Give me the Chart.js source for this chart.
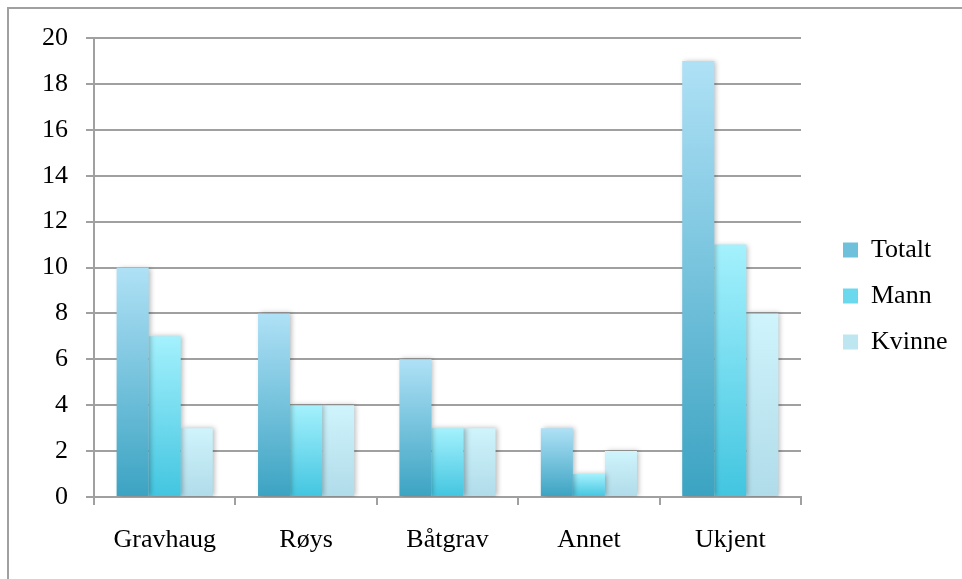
<!DOCTYPE html>
<html>
<head>
<meta charset="utf-8">
<script src="https://cdn.jsdelivr.net/npm/chart.js@4.4.1/dist/chart.umd.min.js"></script>
<style>
  html, body { margin: 0; padding: 0; background: #fff; }
  #wrap { position: relative; width: 962px; height: 579px; }
  #frame { position: absolute; left: 7px; top: 7px; right: 0; bottom: 0;
           border-left: 2px solid #a0a0a0; border-top: 2px solid #a0a0a0; }
  canvas { position: absolute; left: 0; top: 0; }
</style>
</head>
<body>
<div id="wrap">
  <div id="frame"></div>
  <canvas id="grafico" width="962" height="579"></canvas>
</div>
<script>
// data
const kategorier = ['Gravhaug', 'Røys', 'Båtgrav', 'Annet', 'Ukjent'];
const totalt = [10, 8, 6, 3, 19];
const mann = [7, 4, 3, 1, 11];
const kvinne = [3, 4, 3, 2, 8];
const yTicks = [0, 2, 4, 6, 8, 10, 12, 14, 16, 18, 20];

// [bottom, top] of each bar's gradient, plus legend swatch colour
const farger = {
  totalt: ['#3ba3c2', '#afe1f6'],
  mann: ['#42c5e0', '#a4f1fd'],
  kvinne: ['#b0dbe9', '#cff4fc']
};
const legendeFarger = ['#6fc0da', '#6ad9ee', '#bde6f1'];

const grid = '#a0a0a0';
const font = { family: '"Liberation Serif", "DejaVu Serif", serif', size: 26 };

function gradient(c, par) {
  const chart = c.chart;
  if (!chart.chartArea || c.type !== 'data') return par[0];
  const y = chart.scales.y;
  const g = chart.ctx.createLinearGradient(0, y.getPixelForValue(0), 0, y.getPixelForValue(c.raw));
  g.addColorStop(0, par[0]);
  g.addColorStop(1, par[1]);
  return g;
}

// soft shadow to the right of the bars
const skygge = {
  id: 'skygge',
  beforeDatasetsDraw(chart) {
    const ctx = chart.ctx;
    ctx.save();
    ctx.shadowColor = 'rgba(0,0,0,0.28)';
    ctx.shadowBlur = 5;
    ctx.shadowOffsetX = 2;
    ctx.shadowOffsetY = 0;
  },
  afterDatasetsDraw(chart) { chart.ctx.restore(); }
};

// legend keeps a fixed 161px column on the right, items pushed in a bit
const legendeplass = {
  id: 'legendeplass',
  afterInit(chart) {
    const lg = chart.legend;
    const fit = lg.fit.bind(lg);
    lg.fit = function () { fit(); this.width = 161; };
  },
  afterLayout(chart) { chart.legend.left += 22; }
};

new Chart(document.getElementById('grafico'), {
  type: 'bar',
  data: {
    labels: kategorier,
    datasets: [
      { label: 'Totalt', data: totalt, backgroundColor: c => gradient(c, farger.totalt) },
      { label: 'Mann', data: mann, backgroundColor: c => gradient(c, farger.mann) },
      { label: 'Kvinne', data: kvinne, backgroundColor: c => gradient(c, farger.kvinne) }
    ]
  },
  options: {
    responsive: false,
    animation: false,
    events: [],
    datasets: { bar: { categoryPercentage: 0.68, barPercentage: 1, borderWidth: 0 } },
    layout: { padding: { left: 0, top: 38, right: 0, bottom: 25 } },
    plugins: {
      tooltip: { enabled: false },
      legend: {
        position: 'right',
        labels: {
          color: '#000',
          font: font,
          boxWidth: 15,
          boxHeight: 15,
          padding: 20,
          generateLabels(chart) {
            const items = Chart.defaults.plugins.legend.labels.generateLabels(chart);
            items.forEach((it, i) => { it.fillStyle = legendeFarger[i]; it.lineWidth = 0; });
            return items;
          }
        }
      }
    },
    scales: {
      x: {
        ticks: { color: '#000', font: font, padding: 20, maxRotation: 0 },
        grid: { drawOnChartArea: false, drawTicks: true, tickLength: 8, color: grid, lineWidth: 2 },
        border: { color: grid, width: 2 },
        afterFit: s => { s.height = 579 - 497 - 25; }
      },
      y: {
        min: 0,
        max: 20,
        afterBuildTicks: s => { s.ticks = yTicks.map(v => ({ value: v })); },
        ticks: { color: '#000', font: font, padding: 18 },
        grid: { color: grid, lineWidth: 2, tickLength: 8 },
        border: { color: grid, width: 2 },
        afterFit: s => { s.width = 94; }
      }
    }
  },
  plugins: [skygge, legendeplass]
});
</script>
</body>
</html>
